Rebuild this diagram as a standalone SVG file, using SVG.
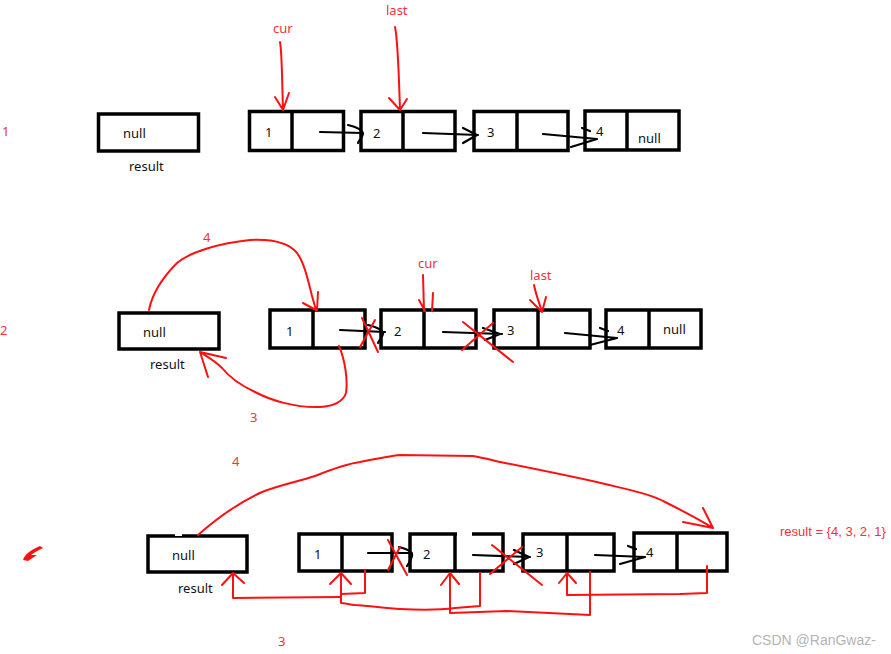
<svg xmlns="http://www.w3.org/2000/svg" width="891" height="654" viewBox="0 0 891 654">
<style>
.box{fill:#fff;stroke:#000;stroke-width:3.5}
.div{stroke:#000;stroke-width:3.5}
.t{font-family:"Noto Sans","Liberation Sans",sans-serif;font-size:13px;fill:#111}
.rt{font-family:"Noto Sans","Liberation Sans",sans-serif;font-size:13px;fill:#f0333d}
.red{fill:none;stroke:#ff1010;stroke-width:2;stroke-linecap:round;stroke-linejoin:round}
.blk{fill:none;stroke:#000;stroke-width:2.2;stroke-linecap:round;stroke-linejoin:round}
.wm{font-family:"Liberation Sans",sans-serif;font-size:14px;fill:#b4b4b4}
</style>
<rect width="891" height="654" fill="#fff"/>

<!-- row labels -->
<text class="rt" x="2" y="136">1</text>
<text class="rt" x="0" y="335">2</text>

<!-- Row 1 -->
<g id="r1-result">
<rect class="box" x="98.5" y="114" width="100" height="37"/>
<text class="t" x="123" y="138">null</text>
<text class="t" x="129" y="171">result</text>
</g>
<g id="r1-n1">
<rect class="box" x="249.5" y="111.5" width="94" height="39"/>
<line class="div" x1="292" y1="111.5" x2="292" y2="150.5"/>
<text class="t" x="265" y="137">1</text>
</g>
<g id="r1-n2">
<rect class="box" x="361" y="111.5" width="94" height="39"/>
<line class="div" x1="403" y1="111.5" x2="403" y2="150.5"/>
<text class="t" x="373" y="138">2</text>
</g>
<g id="r1-n3">
<rect class="box" x="474" y="111.5" width="94" height="39"/>
<line class="div" x1="517" y1="111.5" x2="517" y2="150.5"/>
<text class="t" x="487" y="137">3</text>
</g>
<g id="r1-n4">
<rect class="box" x="585" y="111" width="94" height="39"/>
<line class="div" x1="627" y1="111" x2="627" y2="150"/>
<text class="t" x="596" y="136">4</text>
<text class="t" x="638" y="143">null</text>
</g>
<g id="r1-cur">
<text class="rt" x="273" y="33">cur</text>
</g>
<g id="r1-last">
<text class="rt" x="386" y="15">last</text>
</g>

<!-- Row 2 -->
<g id="r2-result">
<rect class="box" x="119" y="313" width="100" height="36"/>
<text class="t" x="143" y="337">null</text>
<text class="t" x="150" y="369">result</text>
</g>
<g id="r2-n1">
<rect class="box" x="270" y="310" width="95" height="38"/>
<line class="div" x1="313" y1="310" x2="313" y2="348"/>
<text class="t" x="286" y="336">1</text>
</g>
<g id="r2-n2">
<rect class="box" x="381" y="310" width="95" height="38"/>
<line class="div" x1="424" y1="310" x2="424" y2="348"/>
<text class="t" x="394" y="336">2</text>
</g>
<g id="r2-n3">
<rect class="box" x="494" y="310" width="96" height="38"/>
<line class="div" x1="538" y1="310" x2="538" y2="348"/>
<text class="t" x="507" y="335">3</text>
</g>
<g id="r2-n4">
<rect class="box" x="606" y="310" width="95" height="38"/>
<line class="div" x1="649" y1="310" x2="649" y2="348"/>
<text class="t" x="617" y="335">4</text>
<text class="t" x="663" y="334">null</text>
</g>
<g id="r2-labels">
<text class="rt" x="418" y="268">cur</text>
<text class="rt" x="530" y="280">last</text>
<text class="rt" x="203" y="242">4</text>
<text class="rt" x="250" y="422">3</text>
</g>

<!-- Row 3 -->
<g id="r3-result">
<rect class="box" x="148" y="536" width="99" height="36"/>
<rect x="175" y="533" width="7" height="3" fill="#fff"/>
<text class="t" x="172" y="560">null</text>
<text class="t" x="178" y="593">result</text>
</g>
<g id="r3-n1">
<rect class="box" x="299" y="534" width="93" height="37"/>
<line class="div" x1="342" y1="534" x2="342" y2="571"/>
<text class="t" x="314" y="559">1</text>
</g>
<g id="r3-n2">
<rect class="box" x="410" y="534" width="93" height="37"/>
<rect x="457" y="531" width="15" height="5" fill="#fff"/>
<line class="div" x1="455" y1="534" x2="455" y2="571"/>
<text class="t" x="423" y="559">2</text>
</g>
<g id="r3-n3">
<rect class="box" x="523" y="534" width="91" height="37"/>
<line class="div" x1="567" y1="534" x2="567" y2="571"/>
<text class="t" x="536" y="557">3</text>
</g>
<g id="r3-n4">
<rect class="box" x="634" y="533" width="93" height="38"/>
<line class="div" x1="677" y1="533" x2="677" y2="571"/>
<text class="t" x="646" y="557">4</text>
</g>
<g id="r3-labels">
<text class="rt" x="232" y="466">4</text>
<text class="rt" x="278" y="646">3</text>
<text x="780" y="536" font-family="'Liberation Sans',sans-serif" font-size="13" fill="#f0333d">result = {4, 3, 2, 1}</text>
</g>
<g id="scribble">
<path d="M23,560 C25,554 31,550 40,546 L43,548 C38,550 34,553 31,555 L37,555 L28,561 Z" fill="#ff1010"/>
</g>

<text class="wm" x="752" y="645">CSDN @RanGwaz-</text>

<g id="connectors">
<!-- Row 1 pointers -->
<path class="red" d="M280,42 C282,52 282,80 283,110 M275,97 L283,110 L289,93"/>
<path class="red" d="M395,27 C398,40 399,80 400,110 M389,98 L400,110 L407,99"/>
<!-- Row 1 next arrows -->
<path class="blk" d="M320,132 L363,133 M348,125 C356,127 363,130 363,134 C362,138 359,140 358,143"/>
<path class="blk" d="M423,133 L478,135 M463,128 L477,135 L463,143"/>
<path class="blk" d="M543,134 L597,139 L571,147 M582,128 L590,131"/>

<!-- Row 2 pointers -->
<path class="red" d="M423,275 L424,311 M419,300 L425,311 M433,293 L432,311"/>
<path class="red" d="M534,285 C536,295 540,305 542,312 M530,300 L542,312 L546,297"/>
<!-- Row 2 next arrows -->
<path class="blk" d="M340,330 L385,332 M368,325 C376,327 384,330 383,334 C382,338 379,340 378,343"/>
<path class="blk" d="M443,332 L502,334 M483,328 L500,334 L485,340"/>
<path class="blk" d="M565,333 L617,338 L590,345 M600,328 L608,331"/>
<!-- Row 2 red X -->
<path class="red" d="M362,318 L378,352 M375,320 L360,347"/>
<path class="red" d="M463,322 L513,362 M493,323 L462,350"/>
<!-- Row 2 curve 4 -->
<path class="red" d="M149,310 C152,295 160,280 177,263 C190,252 220,243 250,240 C270,239 288,242 297,253 C304,262 308,280 312,296 L316,310 M303,303 L316,310 M318,292 L317,310"/>
<!-- Row 2 curve 3 -->
<path class="red" d="M339,346 C345,360 348,380 346,393 C343,402 335,406 320,407 C295,408 270,400 255,392 C240,385 230,378 222,368 C214,360 206,356 200,352 M226,358 L200,352 L208,377"/>

<!-- Row 3 next arrows -->
<path class="blk" d="M368,553 L412,553 M399,547 C407,549 413,552 412,556 C411,560 409,563 407,566"/>
<path class="blk" d="M473,555 L530,557 M514,550 L529,557 L514,564"/>
<path class="blk" d="M595,555 L645,557 L620,564 M628,546 L636,549"/>
<!-- Row 3 red X -->
<path class="red" d="M388,540 L407,575 M400,547 L388,570"/>
<path class="red" d="M492,545 L542,585 M522,547 L490,574"/>
<!-- Row 3 curve 4 -->
<path class="red" d="M198,535 C215,520 240,502 262,492 C280,485 300,481 315,476 C330,470 345,464 360,462 C375,459 390,456 400,455 L473,456 C485,458 495,461 505,463 C540,470 575,477 605,484 C630,490 650,494 665,502 C685,512 700,520 713,528 M683,522 L713,528 L703,508"/>
<!-- Row 3 back links -->
<path class="red" d="M365,570 L365,593 L341,594 M341,597 L233,598 L233,573 M222,585 L233,573 L244,583"/>
<path class="red" d="M480,573 L480,606 L455,608 C440,610 420,610 400,609 C385,608 370,606 355,605 C348,604 343,603 341,603 L341,573 M330,584 L341,573 L351,584"/>
<path class="red" d="M590,572 L590,615 L507,611 L450,613 L450,573 M441,585 L450,573 L459,584"/>
<path class="red" d="M707,566 L707,593 L680,594 L567,595 L567,573 M559,583 L567,573 L576,583"/>
</g>
</svg>
